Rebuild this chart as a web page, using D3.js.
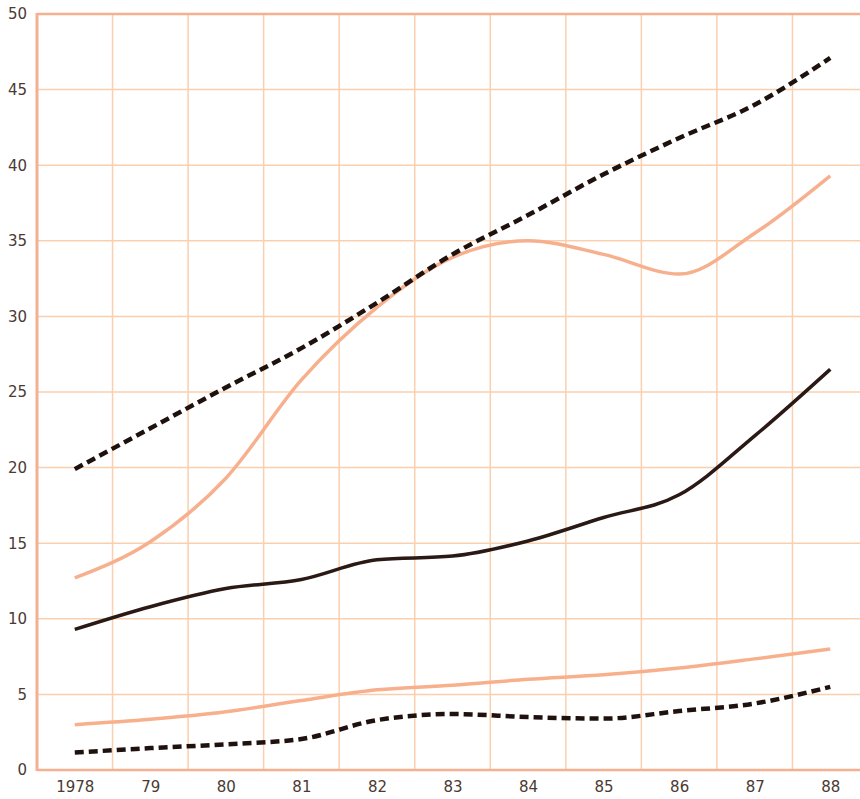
<!DOCTYPE html>
<html>
<head>
<meta charset="utf-8">
<script src="https://cdn.jsdelivr.net/npm/d3@7"></script>
<style>
  body { margin: 0; background: #fff; }
  svg { display: block; }
  .tick text { font-family: "DejaVu Sans", sans-serif; font-size: 15px; fill: #4a3a33; }
</style>
</head>
<body>
<div id="chart"></div>
<script>
// categories and tick labels
var years = ["1978", "79", "80", "81", "82", "83", "84", "85", "86", "87", "88"];
var yTicks = [0, 5, 10, 15, 20, 25, 30, 35, 40, 45, 50];

// series values
var topDashed   = [19.9, 22.6, 25.3, 27.9, 30.9, 34.1, 36.7, 39.4, 41.8, 44.0, 47.1];
var upperLight  = [12.7, 15.1, 19.3, 25.8, 30.6, 33.9, 35.0, 34.1, 32.8, 35.5, 39.3];
var middleDark  = [9.3, 10.8, 12.0, 12.6, 13.9, 14.15, 15.15, 16.7, 18.2, 22.1, 26.5];
var lowerLight  = [3.0, 3.35, 3.85, 4.6, 5.3, 5.6, 6.0, 6.3, 6.75, 7.35, 8.0];
var lowerDashed = [1.15, 1.45, 1.7, 2.05, 3.3, 3.7, 3.5, 3.4, 3.9, 4.4, 5.5];

var svgWidth = 860, svgHeight = 799;
var margin = {top: 14, right: -8, bottom: 29, left: 37};

var svg = d3.select("#chart")
  .append("svg")
  .attr("width", svgWidth)
  .attr("height", svgHeight);

var x = d3.scalePoint()
  .domain(years)
  .range([margin.left, svgWidth - margin.right])
  .padding(0.5);
var y = d3.scaleLinear()
  .domain([0, 50])
  .range([svgHeight - margin.bottom, margin.top]);

var step = x.step();
var gridColor = "#fbcfae";
var axisColor = "#f4b090";

// vertical grid at the band edges
svg.append("g")
  .selectAll("line")
  .data(years.slice(1))
  .enter().append("line")
    .attr("x1", function(d) { return x(d) - step / 2; })
    .attr("x2", function(d) { return x(d) - step / 2; })
    .attr("y1", y(50))
    .attr("y2", y(0))
    .attr("stroke", gridColor)
    .attr("stroke-width", 1.5);

// horizontal grid
svg.append("g")
  .selectAll("line")
  .data(yTicks.slice(1, -1))
  .enter().append("line")
    .attr("x1", margin.left)
    .attr("x2", svgWidth)
    .attr("y1", function(d) { return y(d); })
    .attr("y2", function(d) { return y(d); })
    .attr("stroke", gridColor)
    .attr("stroke-width", 1.5);

// frame: top, left, bottom
svg.append("line")
  .attr("x1", margin.left).attr("x2", svgWidth)
  .attr("y1", y(50)).attr("y2", y(50))
  .attr("stroke", axisColor).attr("stroke-width", 2.5);
svg.append("line")
  .attr("x1", margin.left).attr("x2", svgWidth)
  .attr("y1", y(0)).attr("y2", y(0))
  .attr("stroke", axisColor).attr("stroke-width", 2.5);
svg.append("line")
  .attr("x1", margin.left).attr("x2", margin.left)
  .attr("y1", y(50) - 1).attr("y2", y(0) + 1)
  .attr("stroke", axisColor).attr("stroke-width", 3);

// axes (labels only)
var yAxis = svg.append("g")
  .attr("transform", "translate(" + margin.left + ",0)")
  .call(d3.axisLeft(y).tickValues(yTicks).tickSize(0).tickPadding(10));
yAxis.select(".domain").remove();

var xAxis = svg.append("g")
  .attr("transform", "translate(0," + y(0) + ")")
  .call(d3.axisBottom(x).tickSize(0).tickPadding(11));
xAxis.select(".domain").remove();

var line = d3.line()
  .curve(d3.curveMonotoneX)
  .x(function(d, i) { return x(years[i]); })
  .y(function(d) { return y(d); });

function drawSeries(values, color, width, dash) {
  svg.append("path")
    .datum(values)
    .attr("fill", "none")
    .attr("stroke", color)
    .attr("stroke-width", width)
    .attr("stroke-dasharray", dash)
    .attr("stroke-linejoin", "round")
    .attr("d", line);
}

drawSeries(lowerLight, "#f8b08c", 3.5, null);
drawSeries(upperLight, "#f7b08e", 3.5, null);
drawSeries(middleDark, "#2a1914", 3.5, null);
drawSeries(lowerDashed, "#1f120e", 4.5, "9,5");
drawSeries(topDashed, "#1f120e", 4.5, "9,5");
</script>
</body>
</html>
